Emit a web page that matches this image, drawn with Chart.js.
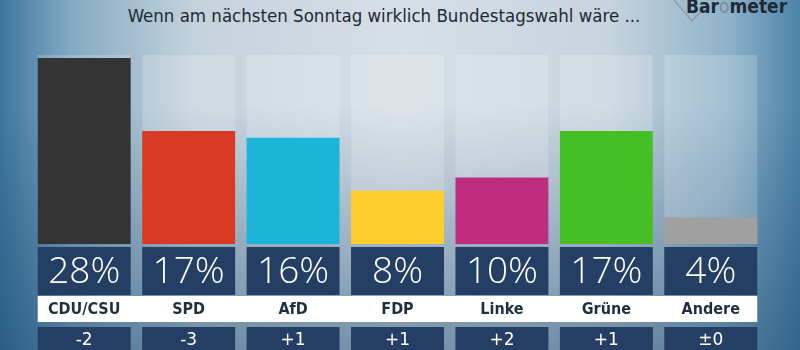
<!DOCTYPE html>
<html>
<head>
<meta charset="utf-8">
<script src="https://cdn.jsdelivr.net/npm/chart.js@4"></script>
<style>
  html, body { margin: 0; padding: 0; }
  #wrap {
    position: relative; width: 800px; height: 350px; overflow: hidden;
    background:
      linear-gradient(to bottom, rgba(255,255,255,0) 30%, rgba(25,70,110,0.5) 100%),
      linear-gradient(to right, #3b77a1 0%, #86aac3 9%, #c2d2dc 24%, #d6dfe6 50%, #c6d4de 76%, #8fb2c9 91%, #4c84aa 100%);
  }
  #title {
    position: absolute; left: 0; width: 768px; top: 5px; text-align: center;
    font: 18.5px "DejaVu Sans Condensed", "DejaVu Sans", sans-serif; color: #1d2936;
  }
  #logo {
    position: absolute; left: 686px; top: -5px;
    font: bold 19px "DejaVu Sans Condensed", "DejaVu Sans", sans-serif; color: #1f2a36;
  }
  #logo span { color: #7f8e9c; font-weight: normal; }
  svg { position: absolute; left: 0; top: 0; }
  canvas { position: absolute; left: 0; top: 0; }
</style>
</head>
<body>
<div id="wrap">
  <svg width="800" height="40"><polyline points="674,0 692,21 707,5" fill="none" stroke="#8d9cab" stroke-width="1.2"/></svg>
  <div id="title">Wenn am nächsten Sonntag wirklich Bundestagswahl wäre ...</div>
  <div id="logo">Bar<span>o</span>meter</div>
  <canvas id="barChart" width="800" height="350"></canvas>
</div>
<script>
const parties = ['CDU/CSU', 'SPD', 'AfD', 'FDP', 'Linke', 'Grüne', 'Andere'];
const shares = [28, 17, 16, 8, 10, 17, 4];
const changes = ['-2', '-3', '+1', '+1', '+2', '+1', '±0'];
const partyColors = ['#343434', '#d83a25', '#1cb4d9', '#fecd2e', '#bd2e80', '#46bf24', '#a0a0a0'];

// backdrop columns behind bars + boxes under them
const boxes = {
    id: 'boxes',
    beforeDatasetsDraw(chart) {
        const ctx = chart.ctx;
        const area = chart.chartArea;
        ctx.save();
        ctx.fillStyle = 'rgba(255,255,255,0.18)';
        chart.getDatasetMeta(0).data.forEach(bar => {
            const w = bar.width;
            ctx.fillRect(bar.x - w / 2, area.top - 3, w, area.bottom - area.top + 3);
        });
        ctx.restore();
    },
    afterDatasetsDraw(chart) {
        const ctx = chart.ctx;
        const bottom = chart.chartArea.bottom;
        const bars = chart.getDatasetMeta(0).data;
        ctx.save();
        ctx.textAlign = 'center';
        ctx.textBaseline = 'middle';

        // white label band
        const first = bars[0], last = bars[bars.length - 1];
        ctx.fillStyle = '#ffffff';
        ctx.fillRect(first.x - first.width / 2, bottom + 52, (last.x + last.width / 2) - (first.x - first.width / 2), 26);

        bars.forEach((bar, i) => {
            const left = bar.x - bar.width / 2;
            ctx.fillStyle = '#243f63';
            ctx.fillRect(left, bottom + 3, bar.width, 48);
            ctx.fillRect(left, bottom + 83, bar.width, 30);

            ctx.fillStyle = '#ffffff';
            ctx.font = '300 37px "Open Sans", Lato, sans-serif';
            ctx.fillText(shares[i] + '%', bar.x, bottom + 28);

            ctx.font = '17px "DejaVu Sans", sans-serif';
            ctx.fillText(changes[i], bar.x, bottom + 97);

            ctx.fillStyle = '#1f2f3f';
            ctx.font = 'bold 16px "DejaVu Sans Condensed", "DejaVu Sans", sans-serif';
            ctx.fillText(parties[i], bar.x, bottom + 66);
        });
        ctx.restore();
    }
};

new Chart(document.getElementById('barChart'), {
    type: 'bar',
    data: {
        labels: parties,
        datasets: [{
            data: shares,
            backgroundColor: partyColors,
            borderWidth: 0,
            barPercentage: 0.89,
            categoryPercentage: 1
        }]
    },
    options: {
        responsive: false,
        animation: false,
        layout: { padding: { top: 58, bottom: 106, left: 32, right: 37 } },
        plugins: { legend: { display: false }, tooltip: { enabled: false } },
        scales: {
            x: { display: false },
            y: { display: false, min: 0, max: 28 }
        }
    },
    plugins: [boxes]
});
</script>
</body>
</html>
